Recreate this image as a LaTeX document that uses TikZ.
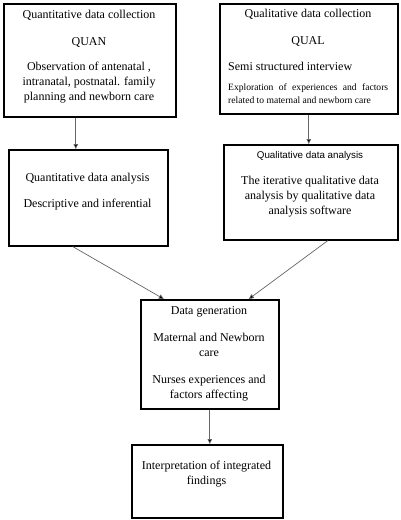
\documentclass[tikz,border=0pt]{standalone}
\usepackage{fontspec}
\setmainfont{Liberation Serif}
\newfontfamily\sansf{Liberation Sans}
\usetikzlibrary{arrows.meta}
\begin{document}
\begin{tikzpicture}[x=1pt,y=-1pt,
 box/.style={draw=black,line width=1.6pt,inner sep=0pt,anchor=north west},
 txt/.style={inner sep=0pt,font=\fontsize{12}{15}\selectfont,align=center},
 small/.style={inner sep=0pt,font=\fontsize{9.6}{13}\selectfont},
 conn/.style={draw=black!60, line width=0.7pt, -{Triangle[length=5pt,width=4.5pt,fill=black]}}]
\useasboundingbox[fill=white] (0,0) rectangle (400,520);
% boxes
\node[box,minimum width=172pt,minimum height=113pt] (b1) at (3,3) {};
\node[box,minimum width=178pt,minimum height=110pt] (b2) at (219,3) {};
\node[box,minimum width=159pt,minimum height=96pt] (b3) at (8,149) {};
\node[box,minimum width=174pt,minimum height=95pt] (b4) at (223,144) {};
\node[box,minimum width=138pt,minimum height=109pt] (b5) at (140,299) {};
\node[box,minimum width=151pt,minimum height=73pt] (b6) at (131,444) {};
% box 1 text
\node[txt] (t1a) at (89,15) {Quantitative data collection};
\node[txt] (t1b) at (89,42) {QUAN};
\node[txt,anchor=north] (t1c) at (89,62) {Observation of antenatal ,\\intranatal, postnatal. family\\planning and newborn care};
% box 2 text
\node[txt] (t2a) at (308,14) {Qualitative data collection};
\node[txt] (t2b) at (308,41) {QUAL};
\node[txt,anchor=west] (t2c) at (228,66) {Semi structured interview};
\node[small,anchor=north west,text width=160pt,align=justify] (t2d) at (228,84) {\hyphenpenalty=10000 Exploration of experiences and factors\linebreak related to maternal and newborn care};
% box 3 text
\node[txt] (t3a) at (87.5,179) {Quantitative data analysis};
\node[txt] (t3b) at (87.5,205) {Descriptive and inferential};
% box 4 text
\node[inner sep=0pt,font=\sansf\fontsize{9.8}{11}\selectfont] (t4a) at (310,156) {Qualitative data analysis};
\node[txt,anchor=north] (t4b) at (310,176) {The iterative qualitative data\\analysis by qualitative data\\analysis software};
% box 5 text
\node[txt] (t5a) at (209,312) {Data generation};
\node[txt,anchor=north] (t5b) at (209,333) {Maternal and Newborn\\care};
\node[txt,anchor=north] (t5c) at (209,375) {Nurses experiences and\\factors affecting};
% box 6 text
\node[txt,anchor=north] (t6a) at (206.5,461) {Interpretation of integrated\\findings};
% connectors
\draw[conn] ([xshift=-14pt]b1.south) -- ([xshift=-12.5pt]b3.north);
\draw[conn] (b2.south) -- (b2.south |- b4.north);
\draw[conn] ([xshift=-15.5pt]b3.south) -- ([xshift=-46pt]b5.north);
\draw[conn] ([xshift=17pt]b4.south) -- ([xshift=39pt]b5.north);
\draw[conn] (b5.south) -- (b5.south |- b6.north);
\end{tikzpicture}
\end{document}
